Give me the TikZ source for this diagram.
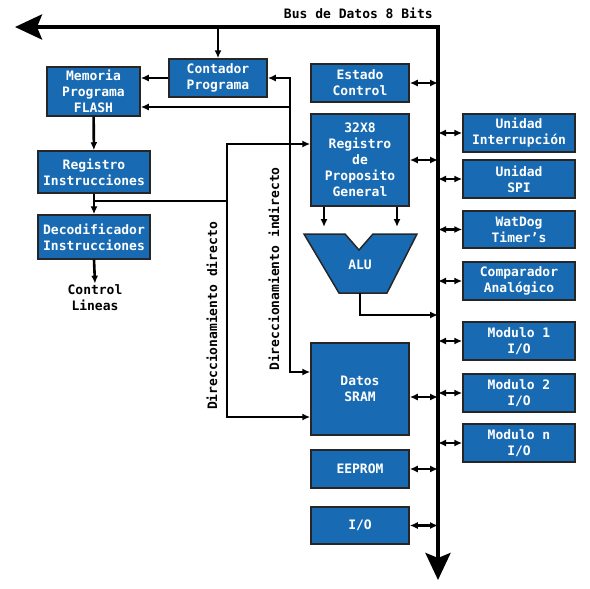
\documentclass[tikz,border=0pt]{standalone}
\usepackage{fontspec}
\setmainfont{DejaVu Sans Mono}
\usetikzlibrary{arrows.meta}
\definecolor{boxblue}{RGB}{24,107,179}

\begin{document}
\begin{tikzpicture}[x=1pt,y=-1pt,
	>={Latex[length=8pt,width=7pt]},
	line width=2.6pt,
	font=\fontsize{13}{16}\selectfont\bfseries,
	blk/.style={
		draw=black!85,
		line width=1.5pt,
		fill=boxblue,
		text=white,
		align=center,
		inner sep=0pt,
		minimum width=98pt,
		minimum height=38pt,
	},
	wide/.style={minimum width=112pt},
	bus/.style={line width=4pt,{Stealth[length=27pt,width=25pt,inset=5pt]}-{Stealth[length=27pt,width=25pt,inset=5pt]}},
	dbl/.style={line width=2.4pt,<->},
	lbl/.style={align=center,inner sep=0pt},
]
	\useasboundingbox (0,0) rectangle (590,589);

	% bus
	\coordinate (busL) at (15,27);
	\coordinate (busC) at (438,27);
	\coordinate (busB) at (438,580);
	\draw[bus] (busL) -- (busC) -- (busB);
	\node[lbl,anchor=base east] (buslbl) at (434,19) {Bus de Datos 8 Bits};

	% left column
	\node[blk] (cont) at (218,78) {Contador\\Programa};
	\node[blk,minimum width=93pt,minimum height=49pt] (mem) at (93.5,91.5) {Memoria\\Programa\\FLASH};
	\node[blk,wide,minimum height=42pt] (regins) at (94,172) {Registro\\Instrucciones};
	\node[blk,wide,minimum height=44pt] (dec) at (94,237) {Decodificador\\Instrucciones};
	\node[lbl] (ctl) at (95,298) {Control\\Lineas};

	% middle column
	\node[blk] (estado) at (360,83) {Estado\\Control};
	\node[blk,minimum height=92pt] (reg32) at (360,160) {32X8\\Registro\\de\\Proposito\\General};
	\node[blk,minimum height=92pt] (sram) at (360,389) {Datos\\SRAM};
	\node[blk] (eeprom) at (360,469) {EEPROM};
	\node[blk,minimum height=37pt] (io) at (360,525.5) {I/O};

	% ALU
	\fill[boxblue,draw=black!85,line width=1.5pt] (304,234) -- (345,234) -- (359,250) -- (373,234)
		-- (417,234) -- (387,293) -- (339,293) -- cycle;
	\node[lbl,text=white] (alu) at (360,265) {ALU};

	% right column
	\node[blk,wide] (intr) at (519,133) {Unidad\\Interrupción};
	\node[blk,wide] (spi) at (519,179) {Unidad\\SPI};
	\node[blk,wide,minimum height=37pt] (wdt) at (519,229.5) {WatDog\\Timer’s};
	\node[blk,wide] (comp) at (519,281) {Comparador\\Analógico};
	\node[blk,wide] (mod1) at (519,341) {Modulo 1\\I/O};
	\node[blk,wide] (mod2) at (519,393) {Modulo 2\\I/O};
	\node[blk,wide] (modn) at (519,443) {Modulo n\\I/O};

	% program flow
	\draw[->] (cont.north |- busL) -- (cont.north);
	\draw[->] (cont.west) -- (cont.west -| mem.east);
	\draw[->] (mem) -- (regins);
	\draw[->] (regins) -- (dec);
	\draw[->] (dec.south) -- (ctl.north);

	% direccionamiento directo
	\coordinate (dirJ) at (95,201);
	\coordinate (dirTop) at (227,144);
	\coordinate (dirBot) at (227,417);
	\draw[<->] (reg32.west |- dirTop) -- (dirTop) -- (dirBot) -- (sram.west |- dirBot);
	\draw (dirJ) -- (dirJ -| dirTop);
	\node[lbl,rotate=90] (lblDir) at (212,316) {Direccionamiento directo};

	% direccionamiento indirecto
	\coordinate (indTop) at (290,78);
	\coordinate (indMem) at (290,107);
	\coordinate (indBot) at (290,372);
	\draw[<->] (sram.west |- indBot) -- (indBot) -- (indTop) -- (cont.east);
	\draw[->] (indMem) -- (indMem -| mem.east);
	\node[lbl,rotate=90] (lblInd) at (274,269) {Direccionamiento indirecto};

	% ALU in/out
	\coordinate (aluA) at (324,227);
	\coordinate (aluB) at (397,227);
	\coordinate (aluOut) at (360,293);
	\coordinate (aluBus) at (438,315);
	\draw[->] (reg32.south -| aluA) -- (aluA);
	\draw[->] (reg32.south -| aluB) -- (aluB);
	\draw[->] (aluOut) |- (aluBus);

	% bus connections
	\foreach \n in {estado,reg32,eeprom,io}{
		\draw[dbl] (\n.east) -- (busC |- \n.east);
	}
	\coordinate (sramBus) at (438,397);
	\draw[dbl] (sram.east |- sramBus) -- (sramBus);
	\foreach \n in {intr,spi,wdt,comp,mod1,mod2,modn}{
		\draw[dbl] (busC |- \n.west) -- (\n.west);
	}
\end{tikzpicture}
\end{document}
